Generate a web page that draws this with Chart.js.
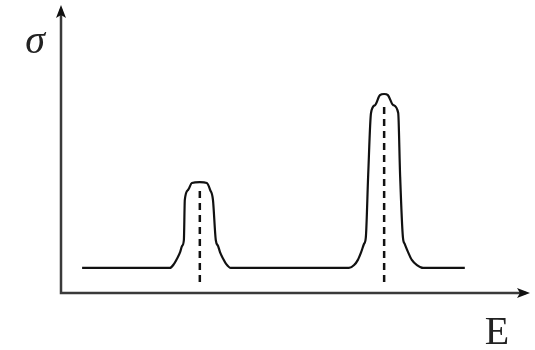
<!DOCTYPE html>
<html>
<head>
<meta charset="utf-8">
<style>
  html, body { margin: 0; padding: 0; background: #ffffff; }
  #wrap { width: 535px; height: 350px; }
</style>
<script src="https://cdn.jsdelivr.net/npm/chart.js@4/dist/chart.umd.min.js"></script>
</head>
<body>
<div id="wrap"><canvas id="c" width="535" height="350"></canvas></div>
<script>
// Cross-section curve: energy E vs sigma (arbitrary units)
const energy = [0.45, 2.32, 2.41, 2.47, 2.54, 2.58, 2.62, 2.64, 2.71, 2.79, 2.96, 3.11, 3.18, 3.24, 3.30, 3.35, 3.39, 3.46, 3.52, 3.62,
                6.14, 6.25, 6.33, 6.40, 6.46, 6.50, 6.55, 6.61, 6.70, 6.80, 6.89, 6.97, 7.08, 7.19, 7.23, 7.29, 7.33, 7.40, 7.48, 7.59, 7.72, 8.61];
const sigma  = [0.87, 0.87, 1.01, 1.18, 1.42, 1.63, 1.84, 3.23, 3.58, 3.82, 3.85, 3.82, 3.58, 3.23, 1.84, 1.63, 1.42, 1.18, 1.01, 0.87,
                0.87, 0.97, 1.15, 1.42, 1.70, 1.94, 4.10, 6.25, 6.53, 6.87, 6.91, 6.87, 6.53, 6.25, 4.10, 1.94, 1.70, 1.42, 1.15, 0.97, 0.87, 0.87];

// Resonance positions, marked by dashed verticals
const peakEnergy = [2.96, 6.89];
const markerTop = [3.65, 6.62];
const markerBottom = 0.38;

const curve = energy.map((e, i) => ({ x: e, y: sigma[i] }));
const markers = peakEnergy.map((e, i) => ({
  type: 'line',
  data: [{ x: e, y: markerBottom }, { x: e, y: markerTop[i] }],
  borderColor: '#111',
  borderWidth: 2.5,
  borderDash: [7, 5],
  pointRadius: 0,
  tension: 0
}));

// Axes with arrowheads and the two axis symbols
const axesPlugin = {
  id: 'arrowAxes',
  afterDraw(chart) {
    const { ctx, chartArea, scales } = chart;
    const x0 = scales.x.getPixelForValue(0);
    const y0 = scales.y.getPixelForValue(0);
    const xEnd = chartArea.right;
    const yEnd = chartArea.top;
    ctx.save();
    ctx.strokeStyle = '#3a3a3a';
    ctx.fillStyle = '#111';
    ctx.lineWidth = 2.5;
    ctx.beginPath();
    ctx.moveTo(x0, yEnd + 4);
    ctx.lineTo(x0, y0);
    ctx.lineTo(xEnd - 4, y0);
    ctx.stroke();
    // arrowhead on the vertical axis
    ctx.beginPath();
    ctx.moveTo(x0, yEnd);
    ctx.lineTo(x0 - 5, yEnd + 13);
    ctx.lineTo(x0, yEnd + 10);
    ctx.lineTo(x0 + 5, yEnd + 13);
    ctx.closePath();
    ctx.fill();
    // arrowhead on the horizontal axis
    ctx.beginPath();
    ctx.moveTo(xEnd, y0);
    ctx.lineTo(xEnd - 13, y0 - 5);
    ctx.lineTo(xEnd - 10, y0);
    ctx.lineTo(xEnd - 13, y0 + 5);
    ctx.closePath();
    ctx.fill();
    // symbols
    ctx.fillStyle = '#222';
    ctx.textAlign = 'center';
    ctx.textBaseline = 'alphabetic';
    ctx.font = 'italic 40px "Liberation Serif", "DejaVu Serif", serif';
    ctx.fillText('σ', 35, 53);
    ctx.font = '40px "Liberation Serif", "DejaVu Serif", serif';
    ctx.fillText('E', 497, 344);
    ctx.restore();
  }
};

new Chart(document.getElementById('c'), {
  type: 'line',
  data: {
    datasets: [
      {
        data: curve,
        borderColor: '#111',
        borderWidth: 2.2,
        pointRadius: 0,
        cubicInterpolationMode: 'monotone'
      },
      ...markers
    ]
  },
  options: {
    responsive: false,
    animation: false,
    events: [],
    layout: { padding: { left: 61, right: 5, top: 5, bottom: 57 } },
    plugins: { legend: { display: false }, tooltip: { enabled: false } },
    scales: {
      x: { type: 'linear', min: 0, max: 10, display: false },
      y: { type: 'linear', min: 0, max: 10, display: false }
    }
  },
  plugins: [axesPlugin]
});
</script>
</body>
</html>
